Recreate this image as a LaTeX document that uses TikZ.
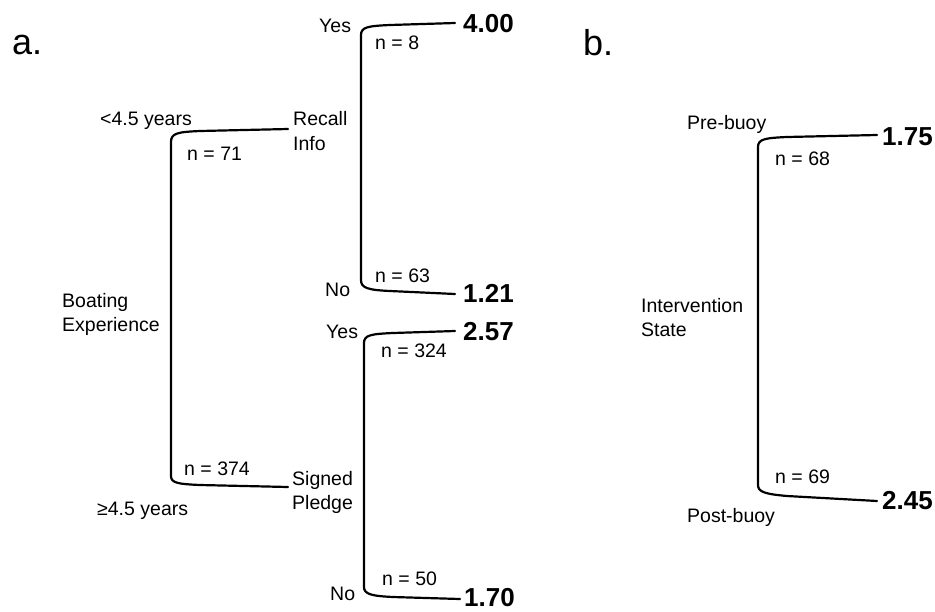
\documentclass[tikz,border=0pt]{standalone}
\usepackage{fontspec}
\setmainfont{Liberation Sans}
\begin{document}
\begin{tikzpicture}[x=1pt,y=-1pt,
  lbl/.style={font=\fontsize{19.5}{24}\selectfont, inner sep=0pt, anchor=base west},
  val/.style={font=\bfseries\fontsize{26}{30}\selectfont, inner sep=0pt, anchor=base west},
  panel/.style={font=\fontsize{36}{40}\selectfont, inner sep=0pt, anchor=base west},
  br/.style={line width=2.2pt, line cap=round, line join=round}]
\useasboundingbox (0,0) rectangle (935,611);
% panel labels
\node[panel] (pa) at (12,54) {a.};
\node[panel] (pb) at (583,55) {b.};
% ---------- panel a: root split ----------
\coordinate (rTop) at (288,129);
\coordinate (rBot) at (288,487);
\draw[br] (rTop) -- (200,131) .. controls (178,132) and (171,133) .. (171,142)
  -- (171,476) .. controls (171,483) and (178,484) .. (200,485) -- (rBot);
\node[lbl] (lt) at (100,125) {<4.5 years};
\node[lbl] (lb) at (97,515) {≥4.5 years};
\node[lbl] (n71) at (187,160) {n = 71};
\node[lbl] (n374) at (184,475) {n = 374};
\node[lbl] (boat1) at (62,307) {Boating};
\node[lbl] (boat2) at (62,331) {Experience};
\node[lbl] (recall1) at (293,125) {Recall};
\node[lbl] (recall2) at (293,150) {Info};
\node[lbl] (signed1) at (292,485) {Signed};
\node[lbl] (signed2) at (292,509) {Pledge};
% ---------- upper subtree ----------
\coordinate (uTop) at (455,23);
\coordinate (uBot) at (455,294);
\draw[br] (uTop) -- (390,25) .. controls (368,26) and (361,27) .. (361,35)
  -- (361,280) .. controls (361,288) and (368,290) .. (390,291) -- (uBot);
\node[lbl] (yes1) at (319,32) {Yes};
\node[lbl] (no1) at (325,296) {No};
\node[lbl] (n8) at (375,49) {n = 8};
\node[lbl] (n63) at (375,282) {n = 63};
\node[val] (v400) at (463,32) {4.00};
\node[val] (v121) at (463,302) {1.21};
% ---------- lower subtree ----------
\coordinate (dTop) at (455,331);
\coordinate (dBot) at (460,599);
\draw[br] (dTop) -- (393,333) .. controls (371,334) and (364,335) .. (364,343)
  -- (364,587) .. controls (364,594) and (371,596) .. (393,597) -- (dBot);
\node[lbl] (yes2) at (326,338) {Yes};
\node[lbl] (no2) at (330,600) {No};
\node[lbl] (n324) at (381,357) {n = 324};
\node[lbl] (n50) at (382,585) {n = 50};
\node[val] (v257) at (463,340) {2.57};
\node[val] (v170) at (464,606) {1.70};
% ---------- panel b ----------
\coordinate (bTop) at (877,135);
\coordinate (bBot) at (877,501);
\draw[br] (bTop) -- (787,137) .. controls (765,138) and (758,139) .. (758,147)
  -- (758,485) .. controls (758,492) and (765,494) .. (787,496) -- (bBot);
\node[lbl] (pre) at (687,129) {Pre-buoy};
\node[lbl] (post) at (687,522) {Post-buoy};
\node[lbl] (n68) at (775,165) {n = 68};
\node[lbl] (n69) at (775,483) {n = 69};
\node[lbl] (interv1) at (641,312) {Intervention};
\node[lbl] (interv2) at (641,336) {State};
\node[val] (v175) at (882,145) {1.75};
\node[val] (v245) at (882,509) {2.45};
\end{tikzpicture}
\end{document}
